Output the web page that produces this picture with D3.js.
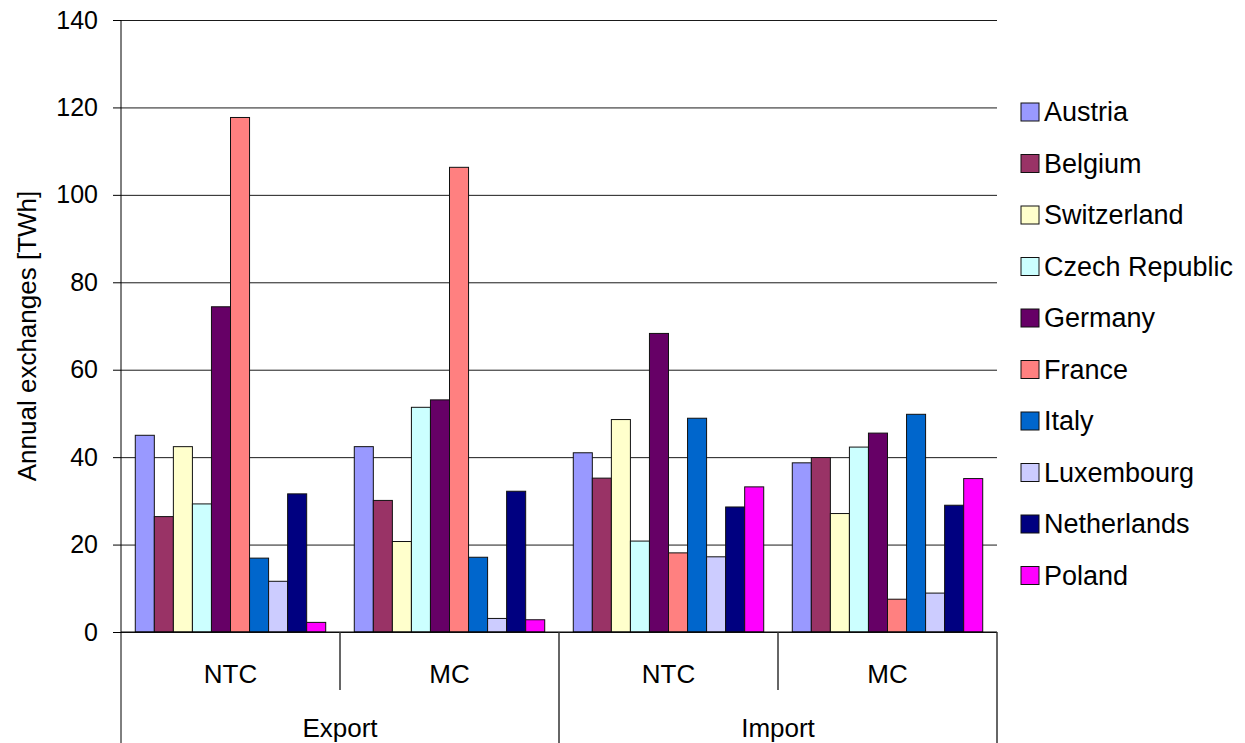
<!DOCTYPE html>
<html>
<head>
<meta charset="utf-8">
<script src="https://cdn.jsdelivr.net/npm/d3@7"></script>
<style>
  html, body { margin: 0; padding: 0; background: #fff; }
  svg { display: block; font-family: "Liberation Sans", Arial, sans-serif; }
</style>
</head>
<body>
<svg id="chart" width="1245" height="743"></svg>
<script>
// Annual cross-border exchanges per country, by flow direction and market method
const countries = ["Austria", "Belgium", "Switzerland", "Czech Republic", "Germany",
                   "France", "Italy", "Luxembourg", "Netherlands", "Poland"];
const colors = ["#9999FF", "#993366", "#FFFFCC", "#CCFFFF", "#660066",
                "#FF8080", "#0066CC", "#CCCCFF", "#000080", "#FF00FF"];
const flows = ["Export", "Import"];
const methods = ["NTC", "MC"];

const exportNTC = [45.0, 26.4, 42.4, 29.3, 74.4, 117.7, 16.9, 11.6, 31.6, 2.2];
const exportMC  = [42.4, 30.1, 20.7, 51.4, 53.1, 106.3, 17.1, 3.1, 32.2, 2.8];
const importNTC = [41.0, 35.2, 48.6, 20.8, 68.3, 18.1, 48.9, 17.2, 28.6, 33.2];
const importMC  = [38.7, 39.9, 27.1, 42.3, 45.5, 7.5, 49.8, 8.9, 29.0, 35.1];

const yTicks = [0, 20, 40, 60, 80, 100, 120, 140];
const yTitle = "Annual exchanges [TWh]";

// Columns of the clustered chart, in drawing order
const seriesByColumn = [exportNTC, exportMC, importNTC, importMC];
const columns = [];
flows.forEach((flow, fi) => {
  methods.forEach((method, mi) => {
    columns.push({ key: flow + "|" + method, flow, method, values: seriesByColumn[fi * 2 + mi] });
  });
});

const svg = d3.select("#chart");
const plotLeft = 121, plotRight = 997, plotTop = 20, plotBottom = 632;

const x0 = d3.scaleBand().domain(columns.map(c => c.key)).range([plotLeft, plotRight]).padding(0);
// gap between clusters is 1.5 bar widths
const barW = x0.bandwidth() / (countries.length + 1.5);
const x1 = d3.scaleBand().domain(countries)
  .range([0.75 * barW, 0.75 * barW + barW * countries.length]).padding(0);
const y = d3.scaleLinear().domain([0, 140]).range([plotBottom, plotTop]);
const color = d3.scaleOrdinal().domain(countries).range(colors);

// Horizontal gridlines
const grid = svg.append("g")
  .attr("transform", `translate(${plotLeft},0)`)
  .call(d3.axisLeft(y).tickValues(yTicks).tickSize(-(plotRight - plotLeft)).tickFormat(""));
grid.select(".domain").remove();
grid.selectAll("line").attr("stroke", "#1a1a1a").attr("stroke-width", 1);

// Bars
const colG = svg.append("g").selectAll("g").data(columns).join("g")
  .attr("transform", d => `translate(${x0(d.key)},0)`);
colG.selectAll("rect")
  .data(d => countries.map((c, i) => ({ country: c, value: d.values[i] })))
  .join("rect")
  .attr("x", d => x1(d.country))
  .attr("y", d => y(d.value))
  .attr("width", x1.bandwidth())
  .attr("height", d => y(0) - y(d.value))
  .attr("fill", d => color(d.country))
  .attr("stroke", "#111")
  .attr("stroke-width", 1);

// Y axis
const yAxis = svg.append("g")
  .attr("transform", `translate(${plotLeft},0)`)
  .call(d3.axisLeft(y).tickValues(yTicks).tickSize(8).tickSizeOuter(0).tickPadding(15));
yAxis.select(".domain").remove();
yAxis.selectAll("line").attr("stroke", "#000");
yAxis.selectAll("text")
  .attr("font-size", 25)
  .attr("font-family", "Liberation Sans, Arial, sans-serif")
  .attr("fill", "#000");

// Y axis line runs through the category label area
svg.append("line")
  .attr("x1", plotLeft).attr("x2", plotLeft)
  .attr("y1", plotTop).attr("y2", 743)
  .attr("stroke", "#000").attr("stroke-width", 1);

// Baseline
svg.append("line")
  .attr("x1", plotLeft).attr("x2", plotRight)
  .attr("y1", y(0)).attr("y2", y(0))
  .attr("stroke", "#000").attr("stroke-width", 1);

// Category dividers: short ones between methods, long ones between flows
columns.forEach((c, i) => {
  const xr = x0(c.key) + x0.bandwidth();
  const isFlowEnd = (i % methods.length) === methods.length - 1;
  svg.append("line")
    .attr("x1", xr).attr("x2", xr)
    .attr("y1", y(0)).attr("y2", isFlowEnd ? 743 : 690)
    .attr("stroke", "#333").attr("stroke-width", 1.5);
});

// Method labels
svg.append("g").selectAll("text").data(columns).join("text")
  .attr("x", d => x0(d.key) + x0.bandwidth() / 2)
  .attr("y", 683)
  .attr("text-anchor", "middle")
  .attr("font-size", 26)
  .text(d => d.method);

// Flow labels
svg.append("g").selectAll("text").data(flows).join("text")
  .attr("x", f => {
    const keys = columns.filter(c => c.flow === f).map(c => c.key);
    return (x0(keys[0]) + x0(keys[keys.length - 1]) + x0.bandwidth()) / 2;
  })
  .attr("y", 737)
  .attr("text-anchor", "middle")
  .attr("font-size", 26)
  .text(f => f);

// Y axis title
svg.append("text")
  .attr("transform", `translate(36,${(plotTop + plotBottom) / 2 + 10}) rotate(-90)`)
  .attr("text-anchor", "middle")
  .attr("font-size", 26)
  .text(yTitle);

// Legend
const legend = svg.append("g").selectAll("g").data(countries).join("g")
  .attr("transform", (d, i) => `translate(1021,${103 + i * 51.5})`);
legend.append("rect")
  .attr("width", 18).attr("height", 18)
  .attr("fill", d => color(d))
  .attr("stroke", "#111").attr("stroke-width", 1);
legend.append("text")
  .attr("x", 23).attr("y", 18)
  .attr("font-size", 27)
  .text(d => d);
</script>
</body>
</html>
